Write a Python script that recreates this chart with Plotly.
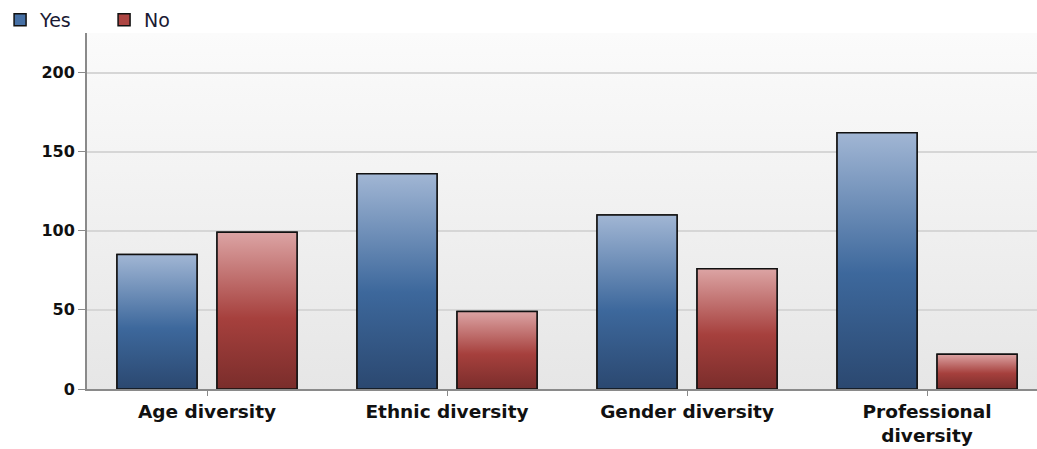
import plotly.graph_objects as go
import base64

categories = ["Age diversity", "Ethnic diversity", "Gender diversity", "Professional<br>diversity"]
yes_values = [85, 136, 110, 162]
no_values = [99, 49, 76, 22]
y_ticks = [0, 50, 100, 150, 200]

series = [
    ("Yes", yes_values, -0.375, "#4670a5",
     [[0, "#2b4870"], [0.45, "#3d689c"], [1, "#a1b6d4"]]),
    ("No", no_values, 0.0417, "#ad4542",
     [[0, "#7a2d2b"], [0.45, "#a6403d"], [1, "#dca4a4"]]),
]
bar_w = 0.3333
xpos = list(range(len(categories)))

fig = go.Figure()
for name, vals, off, col, cs in series:
    fig.add_trace(go.Bar(
        x=xpos, y=vals, name=name, width=bar_w, offset=off,
        marker=dict(color=col, line=dict(color="#111111", width=1.5)),
    ))
for name, vals, off, col, cs in series:
    for xi, v in zip(xpos, vals):
        x0, x1 = xi + off, xi + off + bar_w
        fig.add_trace(go.Scatter(
            x=[x0, x0, x1, x1, x0], y=[0, v, v, 0, 0],
            mode="lines", fill="toself",
            fillgradient=dict(type="vertical", colorscale=cs),
            line=dict(color="#111111", width=1.5),
            showlegend=False, hoverinfo="skip",
        ))

svg = ('<svg xmlns="http://www.w3.org/2000/svg" width="10" height="100" preserveAspectRatio="none">'
       '<defs><linearGradient id="g" x1="0" y1="0" x2="0" y2="1">'
       '<stop offset="0" stop-color="#fbfbfb"/><stop offset="1" stop-color="#e6e6e6"/>'
       '</linearGradient></defs><rect width="10" height="100" fill="url(#g)"/></svg>')
bg_uri = "data:image/svg+xml;base64," + base64.b64encode(svg.encode()).decode()

fig.update_layout(
    width=1037, height=449,
    margin=dict(l=87, r=0, t=33, b=60),
    paper_bgcolor="white", plot_bgcolor="white",
    font=dict(family="DejaVu Sans, Verdana, sans-serif", color="#111111"),
    images=[dict(source=bg_uri, xref="paper", yref="paper", x=0, y=1,
                 sizex=1, sizey=1, sizing="stretch", layer="below")],
    showlegend=True,
    legend=dict(orientation="h", x=-0.0915, y=1.09, xanchor="left", yanchor="top",
                font=dict(size=19, color="#1a1a33"), traceorder="normal",
                entrywidth=59, entrywidthmode="pixels", bgcolor="rgba(0,0,0,0)"),
    xaxis=dict(range=[-0.5, 3.458], tickmode="array", tickvals=xpos, ticktext=categories,
               showgrid=False, zeroline=False, showline=True, linecolor="#8a8a8a", linewidth=2,
               ticks="outside", ticklen=5, tickcolor="#8a8a8a", tickwidth=1,
               tickfont=dict(size=18.5, weight="bold", color="#111111")),
    yaxis=dict(range=[0, 225], tickmode="array", tickvals=y_ticks,
               showgrid=True, gridcolor="#d6d6d6", gridwidth=1.5, zeroline=False,
               showline=True, linecolor="#8a8a8a", linewidth=2,
               ticks="outside", ticklen=7, tickcolor="#8a8a8a", tickwidth=1,
               tickfont=dict(size=16, weight="bold", color="#111111")),
)

fig.write_html("out.html", config={"displayModeBar": False},
               post_script="document.body.style.margin='0';")
